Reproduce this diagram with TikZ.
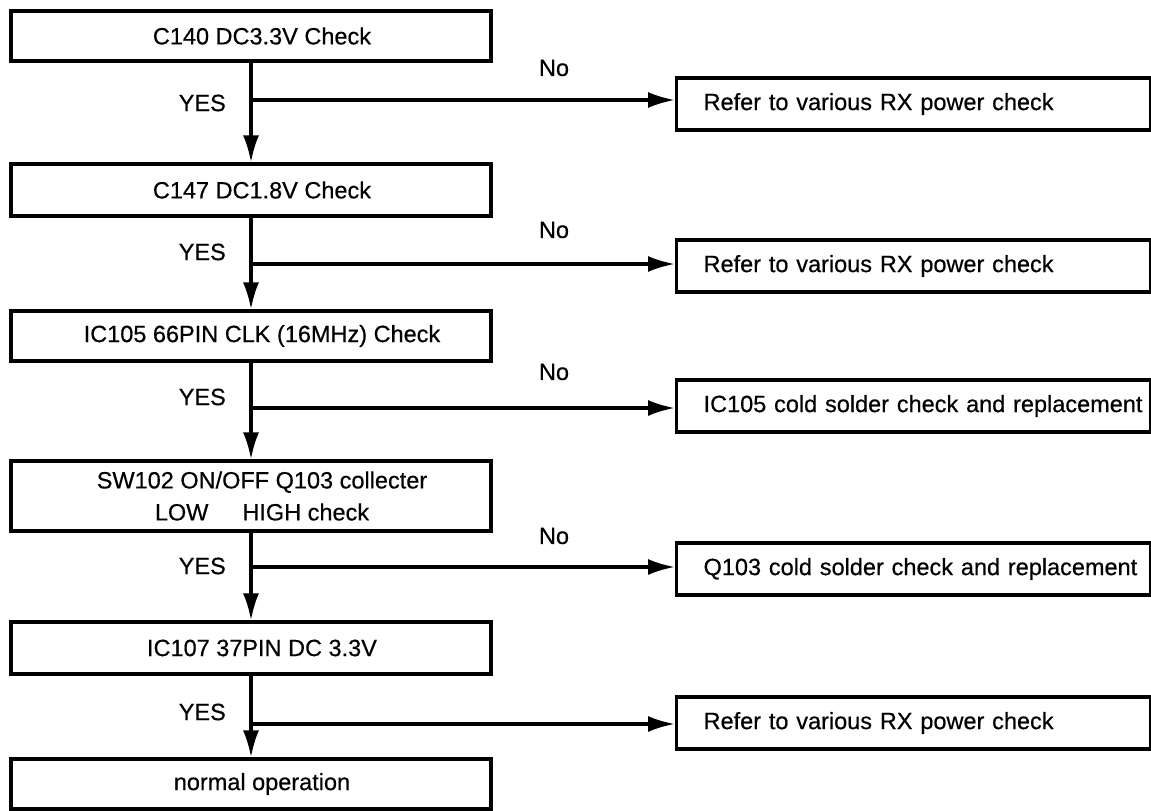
\documentclass[tikz,border=0pt]{standalone}
\usepackage{fontspec}
\newfontfamily\flowfont{Liberation Sans}[FakeBold=0.5]
\usetikzlibrary{arrows.meta,positioning}

\begin{document}
\begin{tikzpicture}[x=1pt, y=-1pt,
  font=\flowfont\fontsize{23.5}{32}\selectfont,
  check/.style={rectangle, draw, line width=3.2pt, minimum width=480pt,
    minimum height=50pt, inner sep=0pt, align=center,
    execute at begin node=\hspace*{22pt}},
  remedy/.style={rectangle, draw, line width=3.2pt, minimum width=474pt,
    minimum height=52pt, inner xsep=27pt, inner ysep=0pt, text width=420pt,
    align=left, anchor=west},
  flow/.style={line width=3.2pt, -{Latex[length=27pt,width=16pt]}},
  lbl/.style={inner sep=0pt},
]
  \useasboundingbox (0,0) rectangle (1151,811);

  % checks down the left
  \node[check] (c1) at (251,36) {C140 DC3.3V Check};
  \node[check, minimum height=52pt] (c2) at (251,190) {C147 DC1.8V Check};
  \node[check] (c3) at (251,336) {IC105 66PIN CLK (16MHz) Check};
  \node[check, minimum height=70pt] (c4) at (251,496)
    {SW102 ON/OFF Q103 collecter\\LOW\hspace{34pt}HIGH check};
  \node[check, minimum height=52pt] (c5) at (251,648) {IC107 37PIN DC 3.3V};
  \node[check] (c6) at (251,784) {normal operation};

  % remedies on the right
  \node[remedy] (r1) at (675,104) {Refer to various RX power check};
  \node[remedy] (r2) at (675,266) {Refer to various RX power check};
  \node[remedy] (r3) at (675,406) {\mbox{IC105 cold solder check and replacement}};
  \node[remedy] (r4) at (675,569) {\mbox{Q103 cold solder check and replacement}};
  \node[remedy] (r5) at (675,723) {Refer to various RX power check};

  % branch points on the trunk
  \coordinate (b1) at (251,100);
  \coordinate (b2) at (251,264);
  \coordinate (b3) at (251,408);
  \coordinate (b4) at (251,567);
  \coordinate (b5) at (251,724);

  \foreach \i/\j in {1/2,2/3,3/4,4/5,5/6}
    \draw[flow] (c\i) -- (c\j);
  \foreach \i in {1,...,5}
    \draw[flow] (b\i) -- (b\i -| r\i.west);

  % YES / No labels
  \node[lbl, anchor=east] (y1) at (226,103) {YES};
  \node[lbl, anchor=east] (y2) at (226,252) {YES};
  \node[lbl, anchor=east] (y3) at (226,397) {YES};
  \node[lbl, anchor=east] (y4) at (226,566) {YES};
  \node[lbl, anchor=east] (y5) at (226,712) {YES};
  \node[lbl] (n1) at (554,68) {No};
  \node[lbl] (n2) at (554,230) {No};
  \node[lbl] (n3) at (554,372) {No};
  \node[lbl] (n4) at (554,536) {No};
\end{tikzpicture}
\end{document}
